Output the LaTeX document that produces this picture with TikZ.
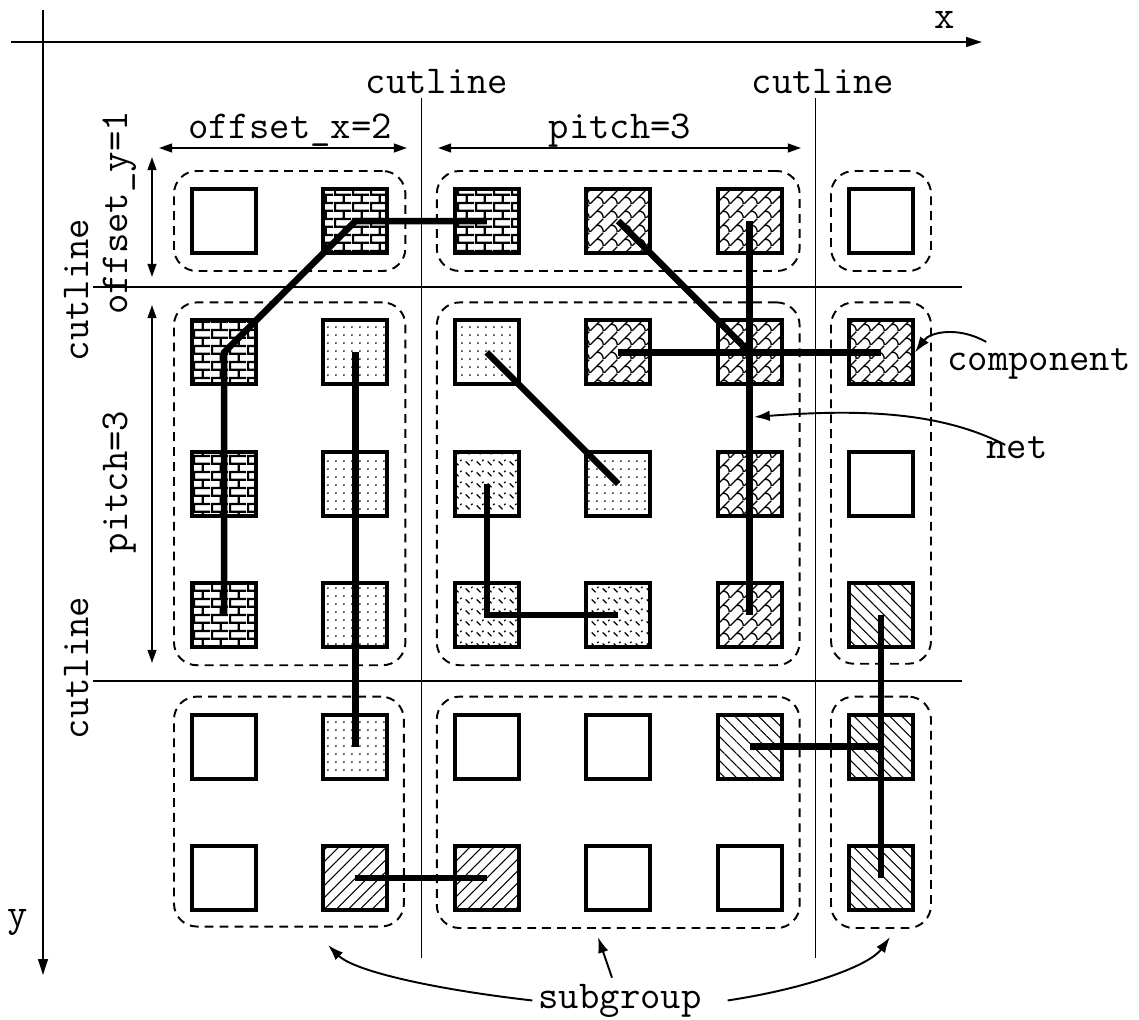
\documentclass[tikz,border=0pt]{standalone}
\usepackage{fontspec}
\usetikzlibrary{arrows.meta, fit, patterns, patterns.meta}

\newcommand\lblfont{\ttfamily\fontsize{22.5}{26}\selectfont}

% fill patterns of the components
\pgfdeclarepatternformonly{smallbricks}{\pgfpointorigin}{\pgfpoint{10pt}{9pt}}{\pgfpoint{10pt}{9pt}}{
  \pgfsetlinewidth{1.3pt}
  \pgfpathmoveto{\pgfpoint{0pt}{0.65pt}}\pgfpathlineto{\pgfpoint{10pt}{0.65pt}}
  \pgfpathmoveto{\pgfpoint{0pt}{5.15pt}}\pgfpathlineto{\pgfpoint{10pt}{5.15pt}}
  \pgfpathmoveto{\pgfpoint{0.65pt}{0.65pt}}\pgfpathlineto{\pgfpoint{0.65pt}{5.15pt}}
  \pgfpathmoveto{\pgfpoint{5.65pt}{5.15pt}}\pgfpathlineto{\pgfpoint{5.65pt}{9pt}}
  \pgfusepath{stroke}}
\pgfdeclarepatternformonly{fishscales}{\pgfpointorigin}{\pgfpoint{8pt}{8pt}}{\pgfpoint{8pt}{8pt}}{
  \pgfsetlinewidth{0.8pt}
  \pgfpathmoveto{\pgfpoint{0pt}{0pt}}\pgfpathlineto{\pgfpoint{8pt}{8pt}}
  \pgfpathmoveto{\pgfpoint{4pt}{4pt}}
  \pgfpathcurveto{\pgfpoint{6.5pt}{4.5pt}}{\pgfpoint{8pt}{2pt}}{\pgfpoint{8pt}{0pt}}
  \pgfusepath{stroke}}
\pgfdeclarepatternformonly{sparsedots}{\pgfpointorigin}{\pgfpoint{4.5pt}{4.5pt}}{\pgfpoint{4.5pt}{4.5pt}}{
  \pgfpathcircle{\pgfpoint{2.25pt}{2.25pt}}{0.55pt}
  \pgfusepath{fill}}
\pgfdeclarepatternformonly{dashgrid}{\pgfpointorigin}{\pgfpoint{6pt}{6pt}}{\pgfpoint{6pt}{6pt}}{
  \pgfsetlinewidth{0.7pt}
  \pgfpathmoveto{\pgfpoint{1pt}{4.5pt}}\pgfpathlineto{\pgfpoint{3.3pt}{2.2pt}}
  \pgfpathmoveto{\pgfpoint{4.3pt}{4.7pt}}\pgfpathlineto{\pgfpoint{5.1pt}{5.5pt}}
  \pgfusepath{stroke}}

\begin{document}
\begin{tikzpicture}[
    x=0.02cm, y=-0.02cm,
    comp/.style={draw,line width=2.3pt,minimum size=1.28cm,inner sep=0pt},
    p-none/.style={},
    p-brick/.style={pattern=smallbricks},
    p-fish/.style={pattern=fishscales},
    p-dots/.style={pattern=sparsedots},
    p-dash/.style={pattern=dashgrid},
    p-ne/.style={pattern={Lines[angle=45,distance=4.8pt,line width=0.6pt]}},
    p-nw/.style={pattern={Lines[angle=-45,distance=4.8pt,line width=0.6pt]}},
    subgrp/.style={draw,dash pattern=on 5pt off 3.5pt,line width=1.1pt,
                   rounded corners=13pt,inner sep=0.32cm},
    net/.style={line width=3.7pt},
    cut/.style={line width=1.1pt},
    axis/.style={-{Triangle[length=9pt,width=5.5pt]},line width=1.1pt},
    dim/.style={{Triangle[length=7.5pt,width=5pt]}-{Triangle[length=7.5pt,width=5pt]},line width=1.1pt},
    callout/.style={-{Latex[length=9pt,width=6pt]},line width=1.1pt},
    lbl/.style={font=\lblfont,inner sep=0.3333em}
]
  \useasboundingbox (0,0) rectangle (1139,1019);

  % axes
  \coordinate (x0) at (11,42);
  \coordinate (x1) at (982,42);
  \coordinate (y0) at (43,10);
  \coordinate (y1) at (43,975);
  \draw[axis] (x0) -- (x1);
  \draw[axis] (y0) -- (y1);
  \node[lbl] (lx) at (945,20) {x};
  \node[lbl] (ly) at (18,922) {y};

  % cutlines
  \draw[cut] (421.5,98) -- (421.5,958);
  \draw[cut] (815.5,98) -- (815.5,958);
  \draw[cut] (93,287) -- (962,287);
  \draw[cut] (93,681) -- (962,681);
  \node[lbl,anchor=base] (cut-x1) at (437,93) {cutline};
  \node[lbl,anchor=base] (cut-x2) at (823,93) {cutline};
  \node[lbl,anchor=base,rotate=90] (cut-y1) at (88,290) {cutline};
  \node[lbl,anchor=base,rotate=90] (cut-y2) at (88,668) {cutline};

  % offsets and pitches
  \draw[dim] (159,148) -- (407,148);
  \node[lbl,anchor=base] (offx) at (290,138) {offset\_x=2};
  \draw[dim] (438,148) -- (801,148);
  \node[lbl,anchor=base] (pitchx) at (620,138) {pitch=3};
  \draw[dim] (152,157) -- (152,277);
  \node[lbl,anchor=base,rotate=90] (offy) at (127,213) {offset\_y=1};
  \draw[dim] (152,305) -- (152,663);
  \node[lbl,anchor=base,rotate=90] (pitchy) at (127,482) {pitch=3};

  % components
  \foreach \row [count=\r from 0] in {
      {p-none,p-brick,p-brick,p-fish,p-fish,p-none},
      {p-brick,p-dots,p-dots,p-fish,p-fish,p-fish},
      {p-brick,p-dots,p-dash,p-dots,p-fish,p-none},
      {p-brick,p-dots,p-dash,p-dash,p-fish,p-nw},
      {p-none,p-dots,p-none,p-none,p-nw,p-nw},
      {p-none,p-ne,p-ne,p-none,p-none,p-nw}}
    \foreach \pat [count=\c from 0] in \row
      \node[comp,\pat] (c-\c-\r) at (224+131.4*\c,221+131.4*\r) {};

  % subgroups
  \node[subgrp,fit=(c-0-0)(c-1-0)] (g-1) {};
  \node[subgrp,fit=(c-2-0)(c-4-0)] (g-2) {};
  \node[subgrp,fit=(c-5-0)] (g-3) {};
  \node[subgrp,fit=(c-0-1)(c-1-3)] (g-4) {};
  \node[subgrp,fit=(c-2-1)(c-4-3)] (g-5) {};
  \node[subgrp,fit=(c-5-1)(c-5-3)] (g-6) {};
  \node[subgrp,fit=(c-0-4)(c-1-5)] (g-7) {};
  \node[subgrp,fit=(c-2-4)(c-4-5)] (g-8) {};
  \node[subgrp,fit=(c-5-4)(c-5-5)] (g-9) {};

  % nets
  \draw[net] (c-0-3.center) -- (c-0-1.center) -- (c-1-0.center) -- (c-2-0.center);
  \draw[net] (c-1-1.center) -- (c-1-4.center);
  \draw[net] (c-2-1.center) -- (c-3-2.center);
  \draw[net] (c-2-2.center) -- (c-2-3.center) -- (c-3-3.center);
  \draw[net] (c-3-0.center) -- (c-4-1.center);
  \draw[net] (c-4-0.center) -- (c-4-3.center);
  \draw[net] (c-3-1.center) -- (c-5-1.center);
  \draw[net] (c-4-4.center) -- (c-5-4.center);
  \draw[net] (c-5-3.center) -- (c-5-5.center);
  \draw[net] (c-1-5.center) -- (c-2-5.center);

  % callouts
  \node[lbl,anchor=base] (l-comp) at (1039,370) {component};
  \node[lbl,anchor=base] (l-net) at (1017,458) {net};
  \node[lbl,anchor=base] (l-sub) at (620,1008) {subgroup};
  \coordinate (t-net) at (754,417);
  \coordinate (t-sg1) at (328,945);
  \coordinate (t-sg2) at (598,937);
  \coordinate (t-sg3) at (890,937);

  \draw[callout] ([xshift=0.9cm]l-comp.north west) .. controls (958,326) and (930,332) .. (c-5-1.east);
  \draw[callout] ([shift={(0.5cm,-0.3cm)}]l-net.north west) .. controls (945,414) and (870,408) .. (t-net);
  \draw[callout] (l-sub.west) .. controls (440,990) and (355,972) .. (t-sg1);
  \draw[callout] ([xshift=-0.16cm]l-sub.north) -- (t-sg2);
  \draw[callout] ([xshift=0.4cm]l-sub.east) .. controls (810,988) and (870,965) .. (t-sg3);
\end{tikzpicture}
\end{document}
